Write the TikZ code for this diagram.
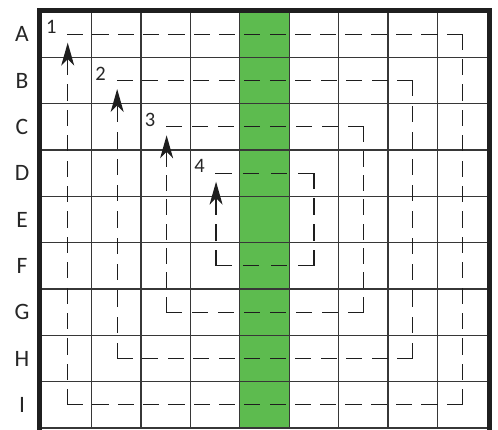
\documentclass[tikz,border=0pt]{standalone}
\usepackage{fontspec}
\setmainfont{Carlito}
\usetikzlibrary{arrows.meta}
\definecolor{stripe}{RGB}{93,187,79}
\definecolor{gridc}{RGB}{55,55,55}
\definecolor{pathc}{RGB}{30,30,30}
\tikzset{
  gridline/.style={gridc, line width=1.3pt},
  frameline/.style={black!88, line width=4.6pt},
  route/.style={pathc, line width=1.25pt, line cap=rect},
  rowlabel/.style={font=\fontsize{23.5}{23.5}\selectfont, text=black!85},
  numlabel/.style={font=\fontsize{20.5}{20.5}\selectfont, text=black!85},
  tipend/.style={-{Stealth[length=23pt,width=13pt,inset=6.5pt]}},
}
\begin{document}
\begin{tikzpicture}[x=1pt,y=-1pt]
\useasboundingbox (0,0) rectangle (498,430);
\def\xo{42}\def\cw{49.444}\def\yo{11}\def\rh{46.333}
% green column
\fill[stripe] (\xo+4*\cw,\yo) rectangle (\xo+5*\cw,428);
% grid
\foreach \i in {1,...,8} \draw[gridline] (\xo+\i*\cw,\yo) -- (\xo+\i*\cw,428);
\foreach \j in {1,...,8} \draw[gridline] (\xo,\yo+\j*\rh) -- (487,\yo+\j*\rh);
\draw[gridline] (\xo,428) -- (487,428);
% frame
\draw[frameline] (39.5,430) -- (39.5,10.3) -- (489.5,10.3) -- (489.5,430);
% row labels
\foreach \l [count=\j from 0] in {A,B,C,D,E,F,G,H,I}
  \node[rowlabel] (row\l) at (22,\yo+\j*\rh+0.5*\rh) {\l};
% spiral routes
\foreach \k in {0,...,3} {
  \pgfmathsetmacro\xl{\xo+(\k+0.5)*\cw+1}
  \pgfmathsetmacro\xr{\xo+(8.5-\k)*\cw}
  \pgfmathsetmacro\yt{\yo+(\k+0.5)*\rh}
  \pgfmathsetmacro\yb{\yo+(8.5-\k)*\rh}
  \pgfmathsetmacro\lh{(8-2*\k)*\cw-1}
  \pgfmathsetmacro\lv{(8-2*\k)*\rh}
  \pgfmathsetmacro\nh{round((\lh+11)/26)}
  \pgfmathsetmacro\nv{round((\lv+11)/26)}
  \pgfmathsetmacro\offh{(\lh-15*\nh)/(\nh-1)}
  \pgfmathsetmacro\offv{(\lv-15*\nv)/(\nv-1)}
  \pgfmathtruncatemacro\num{\k+1}
  \coordinate (tl\k) at (\xl,\yt);
  \coordinate (tr\k) at (\xr,\yt);
  \coordinate (br\k) at (\xr,\yb);
  \coordinate (bl\k) at (\xl,\yb);
  \coordinate (tip\k) at (\xl,\yt+8.5);
  \draw[route, dash pattern=on 15pt off \offh pt] (tl\k) -- (tr\k);
  \draw[route, dash pattern=on 15pt off \offv pt] (tr\k) -- (br\k);
  \draw[route, dash pattern=on 15pt off \offh pt] (br\k) -- (bl\k);
  \draw[route, tipend, dash pattern=on 15pt off \offv pt] (bl\k) -- (tip\k);
  \node[numlabel] (num\k) at (\xl-16.5,\yt-7) {\num};
}
\end{tikzpicture}
\end{document}
